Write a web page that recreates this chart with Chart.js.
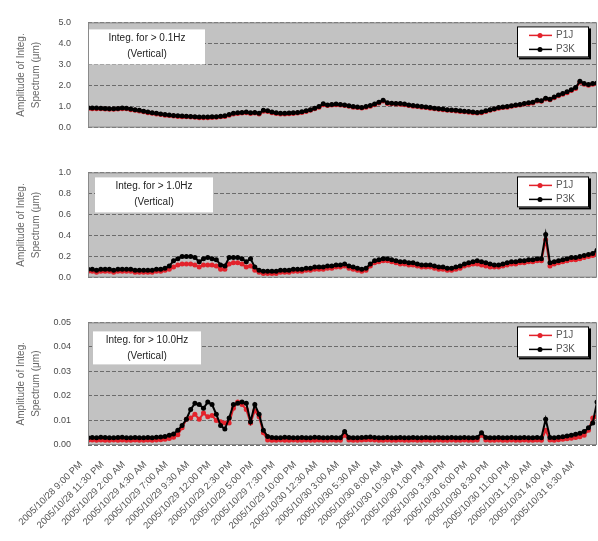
<!DOCTYPE html>
<html>
<head>
<meta charset="utf-8">
<script src="https://cdn.jsdelivr.net/npm/chart.js"></script>
<style>
  body { margin: 0; background: #fff; }
  #wrap { position: relative; width: 598px; height: 541px; }
  canvas { position: absolute; left: 0; }
</style>
</head>
<body>
<div id="wrap">
  <canvas id="c1" width="598" height="150" style="top:0"></canvas>
  <canvas id="c2" width="598" height="150" style="top:150px"></canvas>
  <canvas id="c3" width="598" height="241" style="top:300px"></canvas>
</div>
<script>
// one reading every 30 min, labels every 2.5 h
const SAMPLE_HOURS = 0.5;
const TICK_HOURS = 2.5;

const tickLabels = [
  '2005/10/28 9:00 PM', '2005/10/28 11:30 PM', '2005/10/29 2:00 AM', '2005/10/29 4:30 AM',
  '2005/10/29 7:00 AM', '2005/10/29 9:30 AM', '2005/10/29 12:00 PM', '2005/10/29 2:30 PM',
  '2005/10/29 5:00 PM', '2005/10/29 7:30 PM', '2005/10/29 10:00 PM', '2005/10/30 12:30 AM',
  '2005/10/30 3:00 AM', '2005/10/30 5:30 AM', '2005/10/30 8:00 AM', '2005/10/30 10:30 AM',
  '2005/10/30 1:00 PM', '2005/10/30 3:30 PM', '2005/10/30 6:00 PM', '2005/10/30 8:30 PM',
  '2005/10/30 11:00 PM', '2005/10/31 1:30 AM', '2005/10/31 4:00 AM', '2005/10/31 6:30 AM'
];

const seriesNames = ['P1J', 'P3K'];
const seriesColors = ['#e3222b', '#000000'];

// > 0.1Hz
const p1j_01 = [
  0.91, 0.90, 0.90, 0.89, 0.88, 0.87, 0.87, 0.88, 0.90, 0.89,
  0.85, 0.82, 0.79, 0.75, 0.71, 0.68, 0.65, 0.62, 0.59, 0.57,
  0.55, 0.53, 0.52, 0.51, 0.50, 0.49, 0.47, 0.47, 0.47, 0.48,
  0.49, 0.51, 0.53, 0.59, 0.65, 0.67, 0.69, 0.71, 0.67, 0.69,
  0.65, 0.78, 0.77, 0.71, 0.67, 0.65, 0.65, 0.66, 0.67, 0.69,
  0.72, 0.77, 0.82, 0.89, 0.97, 1.09, 1.05, 1.07, 1.09, 1.07,
  1.05, 1.01, 0.97, 0.95, 0.93, 0.97, 1.02, 1.09, 1.17, 1.26,
  1.15, 1.13, 1.12, 1.11, 1.09, 1.05, 1.02, 1.00, 0.97, 0.95,
  0.92, 0.89, 0.87, 0.85, 0.82, 0.81, 0.79, 0.77, 0.75, 0.73,
  0.71, 0.69, 0.71, 0.77, 0.82, 0.87, 0.92, 0.95, 0.97, 1.01,
  1.05, 1.07, 1.12, 1.15, 1.17, 1.26, 1.25, 1.36, 1.32, 1.42,
  1.51, 1.58, 1.66, 1.76, 1.86, 2.15, 2.06, 2.01, 2.06, 2.08
];
const p3k_01 = [
  0.94, 0.93, 0.93, 0.92, 0.91, 0.90, 0.90, 0.91, 0.93, 0.92,
  0.88, 0.85, 0.82, 0.78, 0.74, 0.71, 0.68, 0.65, 0.62, 0.60,
  0.58, 0.56, 0.55, 0.54, 0.53, 0.52, 0.50, 0.50, 0.50, 0.51,
  0.52, 0.54, 0.56, 0.62, 0.68, 0.70, 0.72, 0.74, 0.70, 0.72,
  0.68, 0.82, 0.80, 0.74, 0.70, 0.68, 0.68, 0.69, 0.70, 0.72,
  0.75, 0.80, 0.85, 0.92, 1.00, 1.13, 1.08, 1.10, 1.12, 1.10,
  1.08, 1.04, 1.00, 0.98, 0.96, 1.00, 1.05, 1.12, 1.20, 1.30,
  1.18, 1.16, 1.15, 1.14, 1.12, 1.08, 1.05, 1.03, 1.00, 0.98,
  0.95, 0.92, 0.90, 0.88, 0.85, 0.84, 0.82, 0.80, 0.78, 0.76,
  0.74, 0.72, 0.74, 0.80, 0.85, 0.90, 0.95, 0.98, 1.00, 1.04,
  1.08, 1.10, 1.15, 1.18, 1.20, 1.30, 1.28, 1.40, 1.35, 1.45,
  1.55, 1.62, 1.70, 1.80, 1.90, 2.20, 2.10, 2.05, 2.10, 2.12
];

// > 1.0Hz
const p1j_1 = [
  0.06, 0.06, 0.05, 0.06, 0.06, 0.06, 0.05, 0.06, 0.06, 0.06,
  0.06, 0.05, 0.05, 0.05, 0.05, 0.05, 0.06, 0.06, 0.07, 0.08,
  0.10, 0.12, 0.13, 0.13, 0.13, 0.12, 0.10, 0.12, 0.12, 0.12,
  0.11, 0.08, 0.08, 0.13, 0.14, 0.14, 0.13, 0.10, 0.11, 0.07,
  0.05, 0.04, 0.04, 0.04, 0.04, 0.05, 0.05, 0.05, 0.06, 0.06,
  0.06, 0.07, 0.07, 0.08, 0.08, 0.08, 0.09, 0.09, 0.10, 0.10,
  0.11, 0.09, 0.08, 0.07, 0.06, 0.07, 0.11, 0.14, 0.15, 0.16,
  0.16, 0.15, 0.14, 0.13, 0.13, 0.12, 0.12, 0.11, 0.10, 0.10,
  0.10, 0.09, 0.08, 0.08, 0.07, 0.07, 0.08, 0.09, 0.11, 0.12,
  0.13, 0.13, 0.12, 0.11, 0.10, 0.10, 0.10, 0.11, 0.12, 0.13,
  0.13, 0.14, 0.14, 0.15, 0.15, 0.16, 0.16, 0.36, 0.11, 0.13,
  0.14, 0.15, 0.16, 0.17, 0.17, 0.18, 0.19, 0.20, 0.21, 0.22
];
const p3k_1 = [
  0.08, 0.08, 0.07, 0.08, 0.08, 0.08, 0.07, 0.08, 0.08, 0.08,
  0.08, 0.07, 0.07, 0.07, 0.07, 0.07, 0.08, 0.08, 0.09, 0.11,
  0.16, 0.18, 0.20, 0.20, 0.20, 0.19, 0.15, 0.18, 0.19, 0.18,
  0.17, 0.12, 0.11, 0.19, 0.19, 0.19, 0.18, 0.15, 0.18, 0.10,
  0.07, 0.06, 0.06, 0.06, 0.06, 0.07, 0.07, 0.07, 0.08, 0.08,
  0.08, 0.09, 0.09, 0.10, 0.10, 0.10, 0.11, 0.11, 0.12, 0.12,
  0.13, 0.11, 0.10, 0.09, 0.08, 0.09, 0.13, 0.16, 0.17, 0.18,
  0.18, 0.17, 0.16, 0.15, 0.15, 0.14, 0.14, 0.13, 0.12, 0.12,
  0.12, 0.11, 0.10, 0.10, 0.09, 0.09, 0.10, 0.11, 0.13, 0.14,
  0.15, 0.16, 0.15, 0.14, 0.13, 0.12, 0.12, 0.13, 0.14, 0.15,
  0.15, 0.16, 0.16, 0.17, 0.17, 0.18, 0.18, 0.41, 0.14, 0.15,
  0.16, 0.17, 0.18, 0.19, 0.19, 0.20, 0.21, 0.22, 0.23, 0.26
];

// > 10.0Hz
const p1j_10 = [
  0.0019, 0.0020, 0.0019, 0.0020, 0.0019, 0.0019, 0.0020, 0.0019, 0.0020, 0.0019,
  0.0019, 0.0020, 0.0019, 0.0019, 0.0020, 0.0019, 0.0020, 0.0021, 0.0023, 0.0027,
  0.0032, 0.0042, 0.0070, 0.0105, 0.0110, 0.0125, 0.0105, 0.0130, 0.0115, 0.0120,
  0.0100, 0.0095, 0.0090, 0.0090, 0.0150, 0.0175, 0.0165, 0.0145, 0.0090, 0.0140,
  0.0115, 0.0050, 0.0020, 0.0019, 0.0019, 0.0020, 0.0019, 0.0019, 0.0020, 0.0019,
  0.0019, 0.0020, 0.0019, 0.0019, 0.0020, 0.0019, 0.0019, 0.0020, 0.0019, 0.0019,
  0.0040, 0.0020, 0.0019, 0.0019, 0.0020, 0.0021, 0.0021, 0.0020, 0.0019, 0.0019,
  0.0020, 0.0019, 0.0019, 0.0020, 0.0019, 0.0019, 0.0020, 0.0019, 0.0019, 0.0020,
  0.0019, 0.0019, 0.0020, 0.0019, 0.0019, 0.0020, 0.0019, 0.0019, 0.0020, 0.0019,
  0.0019, 0.0020, 0.0040, 0.0020, 0.0019, 0.0019, 0.0020, 0.0019, 0.0019, 0.0020,
  0.0019, 0.0019, 0.0020, 0.0019, 0.0019, 0.0020, 0.0019, 0.0060, 0.0020, 0.0019,
  0.0021, 0.0023, 0.0025, 0.0028, 0.0031, 0.0034, 0.0040, 0.0060, 0.0110, 0.0115
];
const p3k_10 = [
  0.0030, 0.0031, 0.0030, 0.0032, 0.0031, 0.0030, 0.0030, 0.0031, 0.0032, 0.0030,
  0.0030, 0.0031, 0.0030, 0.0030, 0.0031, 0.0030, 0.0032, 0.0033, 0.0035, 0.0040,
  0.0045, 0.0060, 0.0080, 0.0105, 0.0145, 0.0170, 0.0165, 0.0150, 0.0175, 0.0165,
  0.0125, 0.0080, 0.0065, 0.0110, 0.0165, 0.0170, 0.0175, 0.0170, 0.0095, 0.0165,
  0.0125, 0.0060, 0.0035, 0.0031, 0.0030, 0.0030, 0.0032, 0.0031, 0.0030, 0.0030,
  0.0031, 0.0030, 0.0030, 0.0032, 0.0031, 0.0030, 0.0030, 0.0031, 0.0030, 0.0030,
  0.0055, 0.0031, 0.0030, 0.0030, 0.0031, 0.0032, 0.0033, 0.0031, 0.0030, 0.0030,
  0.0031, 0.0030, 0.0030, 0.0031, 0.0030, 0.0030, 0.0031, 0.0030, 0.0030, 0.0031,
  0.0030, 0.0030, 0.0031, 0.0030, 0.0030, 0.0031, 0.0030, 0.0030, 0.0031, 0.0030,
  0.0030, 0.0031, 0.0050, 0.0031, 0.0030, 0.0030, 0.0031, 0.0030, 0.0030, 0.0031,
  0.0030, 0.0030, 0.0031, 0.0030, 0.0030, 0.0031, 0.0030, 0.0105, 0.0031, 0.0030,
  0.0032, 0.0034, 0.0037, 0.0040, 0.0044, 0.0048, 0.0055, 0.0070, 0.0090, 0.0175
];

const FONT = '"Liberation Sans", Arial, sans-serif';

function toPoints(vals) {
  return vals.map((v, i) => ({ x: i * SAMPLE_HOURS, y: v }));
}

// gray plot area, white note box and boxed legend
const panelDecor = {
  id: 'panelDecor',
  beforeDraw(chart) {
    const { ctx, chartArea: a } = chart;
    ctx.save();
    ctx.fillStyle = '#c2c2c2';
    ctx.fillRect(a.left, a.top, a.right - a.left, a.bottom - a.top);
    ctx.restore();
  },
  afterDatasetsDraw(chart, args, o) {
    const { ctx, chartArea: a } = chart;
    ctx.save();
    ctx.strokeStyle = '#8a8a8a';
    ctx.lineWidth = 1;
    ctx.strokeRect(a.left + 0.5, a.top + 0.5, a.right - a.left - 1, a.bottom - a.top - 1);

    // note box
    const n = o.note;
    const bx = a.left + n.dx, by = a.top + n.dy;
    ctx.fillStyle = '#fff';
    ctx.fillRect(bx, by, n.w, n.h);
    ctx.fillStyle = '#222';
    ctx.font = '10px ' + FONT;
    ctx.textAlign = 'center';
    ctx.textBaseline = 'middle';
    ctx.fillText(o.lines[0], bx + n.w / 2, by + 9);
    ctx.fillText(o.lines[1], bx + n.w / 2, by + 25);

    // legend
    const lw = 72, lh = 31;
    const lx = a.right - 80, ly = a.top + 4;
    ctx.fillStyle = '#000';
    ctx.fillRect(lx + 2, ly + 2, lw, lh);
    ctx.fillStyle = '#fff';
    ctx.fillRect(lx, ly, lw, lh);
    ctx.strokeStyle = '#000';
    ctx.strokeRect(lx + 0.5, ly + 0.5, lw - 1, lh - 1);
    seriesNames.forEach((name, i) => {
      const y = ly + 9 + i * 14;
      ctx.strokeStyle = seriesColors[i];
      ctx.lineWidth = 1.5;
      ctx.beginPath();
      ctx.moveTo(lx + 12, y);
      ctx.lineTo(lx + 35, y);
      ctx.stroke();
      ctx.fillStyle = seriesColors[i];
      ctx.beginPath();
      ctx.arc(lx + 23, y, 2.5, 0, Math.PI * 2);
      ctx.fill();
      ctx.fillStyle = '#555';
      ctx.textAlign = 'left';
      ctx.fillText(name, lx + 39, y);
    });
    ctx.restore();
  }
};

function makePanel(id, cfg) {
  const datasets = [cfg.red, cfg.black].map((vals, i) => ({
    label: seriesNames[i],
    data: toPoints(vals),
    borderColor: seriesColors[i],
    backgroundColor: seriesColors[i],
    borderWidth: 2,
    pointRadius: 2.5,
    pointBorderWidth: 0,
    tension: 0,
    order: i === 0 ? 2 : 1
  }));

  new Chart(document.getElementById(id), {
    type: 'line',
    data: { datasets },
    options: {
      responsive: false,
      animation: false,
      layout: { padding: cfg.padding, autoPadding: false },
      plugins: {
        legend: { display: false },
        tooltip: { enabled: false },
        panelDecor: { note: cfg.note, lines: cfg.lines }
      },
      scales: {
        x: {
          type: 'linear',
          min: 0,
          max: (cfg.black.length - 1) * SAMPLE_HOURS,
          display: cfg.showX,
          grid: { display: false },
          border: { display: false },
          afterBuildTicks: s => { s.ticks = tickLabels.map((t, k) => ({ value: k * TICK_HOURS })); },
          afterFit: s => { if (cfg.showX) s.height = 96; },
          ticks: {
            autoSkip: false,
            minRotation: 45,
            maxRotation: 45,
            padding: 6,
            labelOffset: -7,
            color: '#555',
            font: { family: FONT, size: 9.5 },
            callback: (v, i) => tickLabels[i]
          }
        },
        y: {
          min: 0,
          max: cfg.max,
          afterFit: s => { s.width = 88; },
          grid: { color: '#6c6c6c', lineWidth: 1, drawTicks: false },
          border: { display: false, dash: [4, 2] },
          ticks: {
            stepSize: cfg.step,
            padding: 17,
            color: '#4a4a4a',
            font: { family: FONT, size: 9 },
            callback: v => v.toFixed(cfg.dec)
          },
          title: {
            display: true,
            text: ['Amplitude of Integ.', 'Spectrum (\u03bcm)'],
            color: '#666',
            font: { family: FONT, size: 10, lineHeight: 1.5 },
            padding: { top: 14, bottom: 0 }
          }
        }
      }
    },
    plugins: [panelDecor]
  });
}

makePanel('c1', {
  red: p1j_01, black: p3k_01, max: 5, step: 1, dec: 1, showX: false,
  padding: { top: 8, bottom: 14, left: 0, right: 1 },
  note: { dx: 1, dy: 7, w: 116, h: 35 },
  lines: ['Integ. for > 0.1Hz', '(Vertical)']
});
makePanel('c2', {
  red: p1j_1, black: p3k_1, max: 1, step: 0.2, dec: 1, showX: false,
  padding: { top: 13, bottom: 12, left: 0, right: 1 },
  note: { dx: 7, dy: 5, w: 118, h: 35 },
  lines: ['Integ. for > 1.0Hz', '(Vertical)']
});
makePanel('c3', {
  red: p1j_10, black: p3k_10, max: 0.05, step: 0.01, dec: 2, showX: true,
  padding: { top: 16, bottom: 0, left: 0, right: 1 },
  note: { dx: 5, dy: 9, w: 108, h: 33 },
  lines: ['Integ. for > 10.0Hz', '(Vertical)']
});
</script>
</body>
</html>
